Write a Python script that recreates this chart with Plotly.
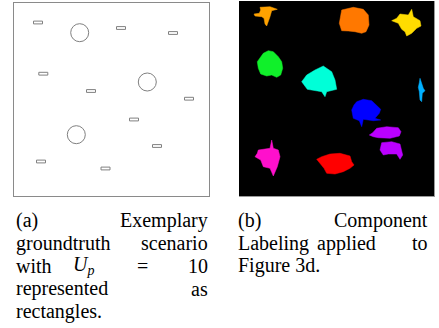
import plotly.graph_objects as go

# ---------------- data ----------------
# (a) ground-truth scene: rectangle centres (scene units, y grows downward)
rect_x = [24, 107, 159, 29.3, 77, 175, 120, 143, 27, 91.5]
rect_y = [19.5, 25, 30, 70.7, 88, 95.7, 116.5, 143, 158.5, 165.5]
rect_w = 9
rect_h = 2.8
# circles
circle_x = [65.7, 133.3, 62.3]
circle_y = [29.7, 79, 131.7]
circle_r = [9, 9, 9]

# (b) labelled components: outlines (panel units, y grows downward)
blob_colors = ["#ffa200", "#ff7800", "#ffdc00", "#10f02a", "#00ffd8",
               "#00b0ff", "#0000ff", "#bb00ff", "#bb00ff", "#ff10cc", "#ff0000"]
blob_x = [
    [21, 31, 38.3, 32.7, 31, 29.3, 27.7, 26, 25, 22.7, 16, 15, 20.3, 21.7],
    [102.7, 114.3, 124.3, 129.3, 130, 127, 122.7, 116, 109.3, 102.7, 100.3, 101.7],
    [161, 169.3, 172.7, 174.3, 181, 182, 177.7, 172.7, 167.7, 166, 162.7, 159.3, 152.7, 157.7],
    [24.3, 29.3, 34.3, 39.3, 42.7, 43.7, 41.7, 37.7, 32.7, 27.7, 21.7, 19.3, 18.3, 21],
    [67.7, 76, 84.3, 92.7, 96, 97.7, 87.7, 86, 82.7, 74.3, 68.3, 62.7],
    [181, 182.7, 184.3, 186, 183.3, 182.7, 181, 180.3, 179.3, 180.3],
    [117.7, 124.3, 132.7, 137.7, 141.7, 140.3, 136, 141.7, 134.3, 124.3, 122.7, 120.3, 114.3, 112.7, 115],
    [137.7, 147.7, 159.3, 162, 160.3, 151, 139.3, 134.3, 130.3, 133.7],
    [142.7, 152.7, 161, 162.7, 163.7, 161, 157.7, 149.3, 144.3, 141, 142],
    [19.3, 31, 32.7, 34.3, 39.3, 41, 38.3, 36, 34.3, 31, 24.3, 21.7, 16, 18.3],
    [82.7, 91, 101, 111, 112.7, 115, 111, 104.3, 96, 87.7, 85, 81, 77.7],
]
blob_y = [
    [6.3, 5.7, 8.3, 9.7, 15.7, 19.7, 25, 23, 17.3, 15.7, 15, 13, 12.3, 9],
    [9, 6.3, 8.3, 14, 24, 30.7, 32.3, 30.7, 30, 29.7, 22.3, 15.7],
    [13, 14, 8.3, 15.7, 19.7, 25, 27.3, 32.3, 35, 30.7, 28.3, 22.3, 19.7, 17.3],
    [52.3, 49.7, 50.7, 55.7, 60.7, 67.3, 74, 76.3, 74, 75, 73, 67.3, 60.7, 57.3],
    [74, 69, 65, 70.7, 79, 88.3, 90.7, 95.7, 90.7, 89.7, 88.3, 80.7],
    [77.3, 82.3, 87.3, 89.7, 92.3, 100.7, 99, 90.7, 86.3, 81.7],
    [100.7, 98.3, 99.7, 104, 108.3, 112.3, 117.3, 119, 119.7, 118.3, 125.7, 119.7, 117.3, 109, 104],
    [127.3, 125.7, 126.7, 130.7, 135, 137.3, 136.7, 135.7, 134, 131.7],
    [141.7, 140.7, 143, 149, 154, 158.3, 153, 153, 154, 149, 144.7],
    [149, 147.3, 139, 147.3, 149, 155.7, 165.7, 172.3, 175, 167.3, 165.7, 159, 155.7, 152.3],
    [155.7, 153, 152.3, 155, 160.7, 164, 167.3, 170.7, 173, 172.3, 167.3, 162.3, 158.3],
]

# caption words
caption_a = [["(a)", "Exemplary"],
             ["groundtruth", "scenario"],
             ["with", "<i>U</i><sub><i>p</i></sub>", "=", "10"],
             ["represented", "as"],
             ["rectangles."]]
caption_b = [["(b)", "Component"],
             ["Labeling", "applied", "to"],
             ["Figure 3d."]]

# ---------------- figure ----------------
W, H = 439, 328
fig = go.Figure()

for xs, ys, c in zip(blob_x, blob_y, blob_colors):
    fig.add_trace(go.Scatter(x=xs + [xs[0]], y=ys + [ys[0]], xaxis="x2", yaxis="y2",
                             mode="lines", fill="toself", fillcolor=c,
                             line=dict(color=c, width=0.5), hoverinfo="skip",
                             showlegend=False))

shapes = []
# black background of panel (b)
shapes.append(dict(type="rect", xref="x2 domain", yref="y2 domain", x0=0, x1=1, y0=0, y1=1,
                   fillcolor="black", line=dict(width=0), layer="below"))
for cx, cy in zip(rect_x, rect_y):
    shapes.append(dict(type="rect", xref="x", yref="y",
                       x0=cx - rect_w / 2, x1=cx + rect_w / 2,
                       y0=cy - rect_h / 2, y1=cy + rect_h / 2,
                       line=dict(color="#808080", width=1), fillcolor="white"))
for cx, cy, r in zip(circle_x, circle_y, circle_r):
    shapes.append(dict(type="circle", xref="x", yref="y",
                       x0=cx - r, x1=cx + r, y0=cy - r, y1=cy + r,
                       line=dict(color="#808080", width=1)))

# caption layout (pixel positions)
FS = 20
line_mid = [220.3, 243.0, 265.7, 288.6, 311.4]
pos_a = [[(15, "left"), (209, "right")],
         [(15, "left"), (209, "right")],
         [(15, "left"), (72, "left"), (142.5, "center"), (209, "right")],
         [(15, "left"), (209, "right")],
         [(15, "left")]]
pos_b = [[(237, "left"), (429, "right")],
         [(237, "left"), (346, "center"), (429, "right")],
         [(237, "left")]]

annotations = []
for lines, poss in ((caption_a, pos_a), (caption_b, pos_b)):
    for li, (words, ps) in enumerate(zip(lines, poss)):
        for w, (px, anc) in zip(words, ps):
            annotations.append(dict(text=w, xref="paper", yref="paper",
                                    x=px / W, y=1 - line_mid[li] / H,
                                    xanchor=anc, yanchor="middle", showarrow=False,
                                    borderpad=0,
                                    font=dict(family="Liberation Serif", size=FS, color="black")))

ax_common = dict(showgrid=False, zeroline=False, showticklabels=False, ticks="",
                 fixedrange=True)
fig.update_layout(
    width=W, height=H, margin=dict(l=0, r=0, t=0, b=0),
    paper_bgcolor="white", plot_bgcolor="white",
    xaxis=dict(domain=[14 / W, 209 / W], range=[0, 195], showline=True, mirror=True,
               linecolor="#8a8a8a", linewidth=1, **ax_common),
    yaxis=dict(domain=[1 - 196 / H, 1 - 3 / H], range=[193, 0], showline=True, mirror=True,
               linecolor="#8a8a8a", linewidth=1, **ax_common),
    xaxis2=dict(domain=[239 / W, 434 / W], range=[0, 195], anchor="y2", showline=True,
                linecolor="#999999", linewidth=1, **ax_common),
    yaxis2=dict(domain=[1 - 196 / H, 1 - 1 / H], range=[195, 0], anchor="x2", side="right",
                showline=True, linecolor="#999999", linewidth=1, **ax_common),
    shapes=shapes, annotations=annotations, showlegend=False,
)

fig.write_html("out.html", config={"displayModeBar": False},
               post_script="document.body.style.margin='0px';")
